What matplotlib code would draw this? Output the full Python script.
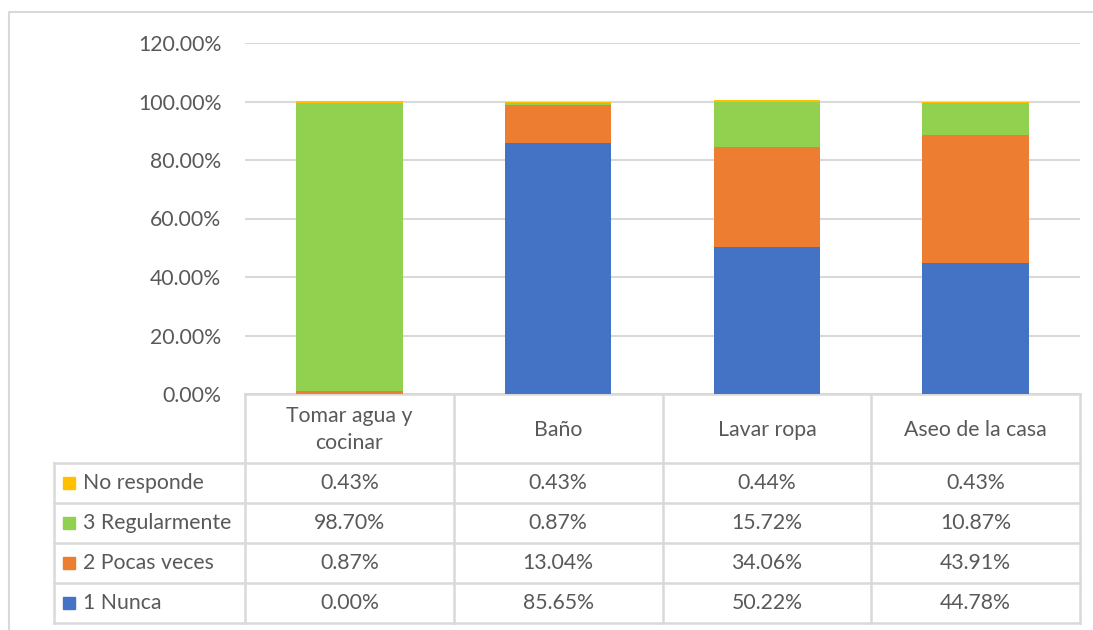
import numpy as np
import matplotlib.pyplot as plt

categorias = ["Tomar agua y\ncocinar", "Baño", "Lavar ropa", "Aseo de la casa"]
series = ["No responde", "3 Regularmente", "2 Pocas veces", "1 Nunca"]
nunca = [0.00, 85.65, 50.22, 44.78]
pocas = [0.87, 13.04, 34.06, 43.91]
regular = [98.70, 0.87, 15.72, 10.87]
no_resp = [0.43, 0.43, 0.44, 0.43]
colores = {"No responde": "#FFC000", "3 Regularmente": "#92D050",
           "2 Pocas veces": "#ED7D31", "1 Nunca": "#4472C4"}
yticks = [0, 20, 40, 60, 80, 100, 120]

valores = {"No responde": no_resp, "3 Regularmente": regular,
           "2 Pocas veces": pocas, "1 Nunca": nunca}

plt.rcParams['font.family'] = ['Lato', 'DejaVu Sans']
GRIS = "#595959"
LINEA = "#D9D9D9"
FS = 15.3

W, H = 1093, 630
fig = plt.figure(figsize=(W / 100, H / 100), dpi=100)

# pixel layout
x0, x1 = 245, 1080          # plot area / table data columns
y0, y120 = 394, 43          # 0% and 120% baselines
tab_left = 54
head_h, row_h = 69, 40

# capa de fondo en pixeles (marco y tabla)
bg = fig.add_axes([0, 0, 1, 1])
bg.set_xlim(0, W)
bg.set_ylim(H, 0)
bg.axis("off")
bg.plot([9, 9, W + 5], [H + 5, 12, 12], color=LINEA, lw=1.5)

ax = fig.add_axes([x0 / W, 1 - y0 / H, (x1 - x0) / W, (y0 - y120) / H])
n = len(categorias)
x = np.arange(n)
abajo = np.zeros(n)
for s in ["1 Nunca", "2 Pocas veces", "3 Regularmente", "No responde"]:
    v = np.array(valores[s])
    ax.bar(x, v, width=0.51, bottom=abajo, color=colores[s], zorder=3)
    abajo += v
ax.set_xlim(-0.5, n - 0.5)
ax.set_ylim(0, 120)
ax.set_yticks(yticks)
ax.set_yticklabels([f"{t:.2f}%" for t in yticks], color=GRIS, fontsize=FS)
ax.tick_params(axis="y", length=0, pad=17)
ax.set_xticks([])
for sp in ax.spines.values():
    sp.set_visible(False)
ax.grid(axis="y", color=LINEA, lw=1.5, zorder=0)
ax.set_axisbelow(True)

# tabla de datos
col_w = (x1 - x0) / n
filas = len(series)
y_tab_bot = y0 + head_h + row_h * filas
lw = 1.8
# encabezado
bg.plot([x0, x1], [y0, y0], color=LINEA, lw=lw)
for i in range(n + 1):
    xx = x0 + i * col_w
    bg.plot([xx, xx], [y0, y_tab_bot], color=LINEA, lw=lw)
for j in range(filas + 1):
    yy = y0 + head_h + j * row_h
    bg.plot([tab_left, x1], [yy, yy], color=LINEA, lw=lw)
bg.plot([tab_left, tab_left], [y0 + head_h, y_tab_bot], color=LINEA, lw=lw)

for i, c in enumerate(categorias):
    bg.text(x0 + (i + 0.5) * col_w, y0 + head_h / 2 + 1, c, ha="center",
            va="center", color=GRIS, fontsize=FS, linespacing=1.4)

for j, s in enumerate(series):
    yc = y0 + head_h + (j + 0.5) * row_h
    bg.add_patch(plt.Rectangle((63, yc - 6), 12, 12, color=colores[s]))
    bg.text(83, yc, s, ha="left", va="center", color=GRIS, fontsize=FS)
    for i in range(n):
        bg.text(x0 + (i + 0.5) * col_w, yc, f"{valores[s][i]:.2f}%",
                ha="center", va="center", color=GRIS, fontsize=FS)

fig.savefig("out.png", dpi=100)
